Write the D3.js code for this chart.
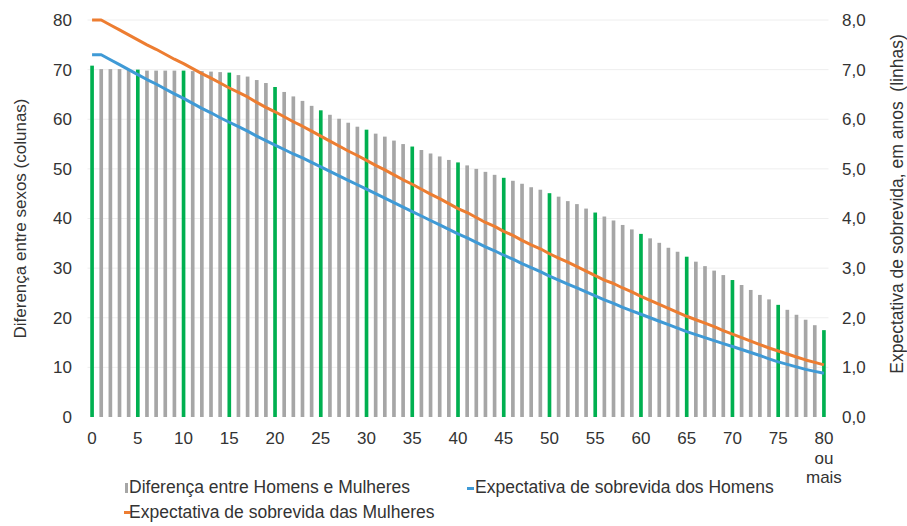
<!DOCTYPE html>
<html>
<head>
<meta charset="utf-8">
<script src="https://cdn.jsdelivr.net/npm/d3@7"></script>
<style>
  html, body { margin: 0; padding: 0; background: #fff; }
  svg { display: block; font-family: "Liberation Sans", Arial, sans-serif; }
</style>
</head>
<body>
<svg id="chart" width="907" height="526"></svg>
<script>
// Idade simples, de 0 a 80 ou mais
const ages = d3.range(0, 81);

// Diferença entre Homens e Mulheres (anos) — colunas, eixo direito
const gap = [
  7.08, 7.01, 7.01, 7.01, 7.01, 7.00, 6.98, 6.98, 6.98, 6.98,
  6.98, 6.97, 6.97, 6.96, 6.95, 6.94, 6.89, 6.86, 6.79, 6.73,
  6.65, 6.55, 6.46, 6.37, 6.27, 6.18, 6.09, 6.01, 5.93, 5.85,
  5.79, 5.71, 5.65, 5.57, 5.50, 5.45, 5.38, 5.31, 5.25, 5.18,
  5.13, 5.07, 5.00, 4.94, 4.88, 4.82, 4.76, 4.70, 4.63, 4.58,
  4.51, 4.44, 4.35, 4.29, 4.20, 4.12, 4.04, 3.96, 3.87, 3.78,
  3.69, 3.60, 3.51, 3.41, 3.33, 3.23, 3.13, 3.04, 2.95, 2.86,
  2.76, 2.66, 2.56, 2.46, 2.37, 2.26, 2.16, 2.06, 1.96, 1.85,
  1.75
];

// Expectativa de sobrevida dos Homens — linha, eixo esquerdo
const men = [
  73.0, 73.0, 72.0, 71.0, 70.0, 69.0, 68.0, 67.1, 66.1, 65.1,
  64.2, 63.2, 62.2, 61.3, 60.3, 59.4, 58.5, 57.6, 56.6, 55.7,
  54.8, 53.9, 53.0, 52.2, 51.3, 50.4, 49.5, 48.6, 47.7, 46.8,
  45.9, 45.0, 44.1, 43.2, 42.3, 41.4, 40.5, 39.6, 38.7, 37.8,
  36.9, 36.1, 35.2, 34.3, 33.5, 32.6, 31.8, 30.9, 30.1, 29.3,
  28.4, 27.6, 26.8, 26.0, 25.2, 24.4, 23.6, 22.9, 22.1, 21.4,
  20.7, 20.0, 19.3, 18.6, 17.9, 17.2, 16.6, 16.0, 15.4, 14.8,
  14.2, 13.6, 13.0, 12.4, 11.7, 11.1, 10.6, 10.1, 9.6, 9.2,
  8.8
];

// Expectativa de sobrevida das Mulheres — linha, eixo esquerdo
const women = [
  80.0, 80.0, 79.0, 78.0, 77.0, 76.0, 75.0, 74.1, 73.1, 72.1,
  71.2, 70.2, 69.2, 68.3, 67.3, 66.3, 65.4, 64.5, 63.4, 62.4,
  61.5, 60.5, 59.5, 58.6, 57.6, 56.6, 55.6, 54.6, 53.6, 52.7,
  51.7, 50.7, 49.8, 48.8, 47.8, 46.9, 45.9, 44.9, 44.0, 43.0,
  42.0, 41.2, 40.2, 39.2, 38.4, 37.4, 36.6, 35.6, 34.7, 33.9,
  32.9, 32.0, 31.2, 30.3, 29.4, 28.5, 27.6, 26.9, 26.0, 25.2,
  24.3, 23.5, 22.7, 21.9, 21.1, 20.3, 19.6, 18.9, 18.2, 17.4,
  16.7, 16.0, 15.3, 14.6, 13.9, 13.3, 12.7, 12.1, 11.5, 11.0,
  10.5
];

const leftTicks = [0, 10, 20, 30, 40, 50, 60, 70, 80];
const rightTicks = [0, 1, 2, 3, 4, 5, 6, 7, 8];
const xTickAges = ages.filter(a => a % 5 === 0);

const colors = {
  bar: "#a6a6a6",
  barMark: "#00b050",
  men: "#3f9ad6",
  women: "#ed7d31",
  text: "#333333",
  grid: "#eeeeee"
};

const svg = d3.select("#chart");
const plot = { left: 87.5, right: 828.5, top: 20, bottom: 417 };

const x = d3.scaleBand().domain(ages).range([plot.left, plot.right]).paddingInner(0.6).paddingOuter(0.3);
const yL = d3.scaleLinear().domain([0, 80]).range([plot.bottom, plot.top]);
const yR = d3.scaleLinear().domain([0, 8]).range([plot.bottom, plot.top]);
const cx = a => x(a) + x.bandwidth() / 2;

// linhas de grade
svg.append("g")
  .selectAll("line")
  .data(leftTicks.filter(d => d > 0))
  .join("line")
  .attr("x1", plot.left).attr("x2", plot.right)
  .attr("y1", d => yL(d)).attr("y2", d => yL(d))
  .attr("stroke", colors.grid).attr("stroke-width", 1);

// colunas
svg.append("g")
  .selectAll("rect")
  .data(ages)
  .join("rect")
  .attr("x", a => x(a))
  .attr("width", x.bandwidth())
  .attr("y", a => yR(gap[a]))
  .attr("height", a => yR(0) - yR(gap[a]))
  .attr("fill", a => a % 5 === 0 ? colors.barMark : colors.bar);

// linhas de expectativa
const line = d3.line().x((d, i) => cx(ages[i])).y(d => yL(d));
svg.append("path").datum(men)
  .attr("d", line).attr("fill", "none")
  .attr("stroke", colors.men).attr("stroke-width", 3).attr("stroke-linejoin", "round");
svg.append("path").datum(women)
  .attr("d", line).attr("fill", "none")
  .attr("stroke", colors.women).attr("stroke-width", 3).attr("stroke-linejoin", "round");

// eixos
const styleAxis = g => {
  g.select(".domain").remove();
  g.selectAll("text").attr("fill", colors.text).style("font-size", "17px")
    .style("font-family", '"Liberation Sans", Arial, sans-serif');
};

svg.append("g")
  .attr("transform", `translate(${plot.left},0)`)
  .call(d3.axisLeft(yL).tickValues(leftTicks).tickSize(0).tickPadding(15.5))
  .call(styleAxis);

svg.append("g")
  .attr("transform", `translate(${plot.right},0)`)
  .call(d3.axisRight(yR).tickValues(rightTicks).tickSize(0).tickPadding(13.5)
    .tickFormat(d => d3.format(".1f")(d).replace(".", ",")))
  .call(styleAxis);

const xAxis = svg.append("g")
  .attr("transform", `translate(0,${plot.bottom})`)
  .call(d3.axisBottom(x).tickValues(xTickAges).tickSize(0).tickPadding(15))
  .call(styleAxis);

xAxis.selectAll(".tick text")
  .filter(d => d === 80)
  .each(function() {
    const t = d3.select(this);
    t.append("tspan").attr("x", 0).attr("dy", "1.2em").text("ou");
    t.append("tspan").attr("x", 0).attr("dy", "1.1em").text("mais");
  });

// títulos dos eixos
svg.append("text")
  .attr("transform", `translate(26,${(plot.top + plot.bottom) / 2}) rotate(-90)`)
  .attr("text-anchor", "middle")
  .attr("fill", colors.text).style("font-size", "17px")
  .text("Diferença entre sexos (colunas)");

svg.append("text")
  .attr("transform", `translate(903,204) rotate(-90)`)
  .attr("text-anchor", "middle")
  .attr("fill", colors.text).style("font-size", "17.5px")
  .style("white-space", "pre")
  .text("Expectativa de sobrevida, em anos  (linhas)");

// legenda
const legend = svg.append("g").style("font-size", "17.5px").attr("fill", colors.text);

legend.append("rect").attr("x", 125).attr("y", 483).attr("width", 3).attr("height", 10).attr("fill", colors.bar);
legend.append("text").attr("x", 129).attr("y", 493).text("Diferença entre Homens e Mulheres");

legend.append("rect").attr("x", 467).attr("y", 487).attr("width", 7).attr("height", 3).attr("fill", colors.men);
legend.append("text").attr("x", 475).attr("y", 493).text("Expectativa de sobrevida dos Homens");

legend.append("rect").attr("x", 124).attr("y", 511).attr("width", 7).attr("height", 3).attr("fill", colors.women);
legend.append("text").attr("x", 129).attr("y", 518).text("Expectativa de sobrevida das Mulheres");
</script>
</body>
</html>
